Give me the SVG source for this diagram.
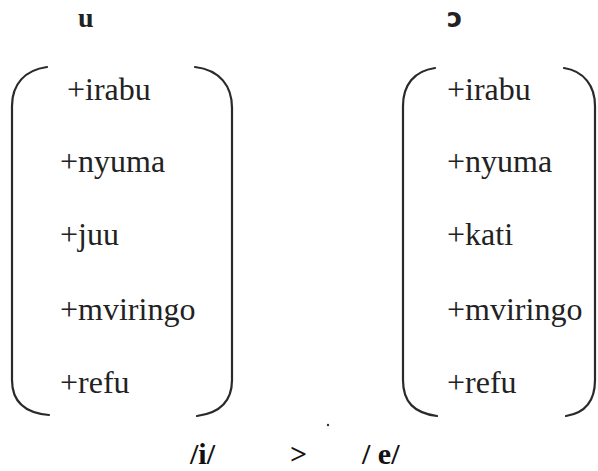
<svg xmlns="http://www.w3.org/2000/svg" width="598" height="471" viewBox="0 0 598 471">
  <style>
    .br { fill: none; stroke: #2a2a2a; stroke-width: 2.2; stroke-linecap: round; }
    .ft { font-family: 'Liberation Serif', 'DejaVu Serif', serif; font-size: 32px; fill: #222; }
    .hd { font-family: 'Liberation Serif', 'DejaVu Serif', serif; font-size: 28px; font-weight: bold; fill: #222; }
    .hs { font-family: 'DejaVu Sans', 'Liberation Sans', sans-serif; font-size: 26px; font-weight: bold; fill: #222; }
    .rl { font-family: 'Liberation Serif', 'DejaVu Serif', serif; font-size: 30px; font-weight: bold; fill: #111; }
  </style>
  <rect width="598" height="471" fill="#fff"/>

  <!-- feature matrix for u -->
  <g id="matrix-u">
    <text class="hd" x="78" y="27">u</text>
    <path class="br" d="M47 67 C25 70 12 84 12 106 L12 380 C12 402 25 413 49 415"/>
    <path class="br" d="M195 67 C220 70 232 86 232 108 L232 380 C232 402 220 413 197 416"/>
    <text class="ft" x="67" y="100">+irabu</text>
    <text class="ft" x="60" y="172">+nyuma</text>
    <text class="ft" x="60" y="245">+juu</text>
    <text class="ft" x="60" y="320">+mviringo</text>
    <text class="ft" x="60" y="393">+refu</text>
  </g>

  <!-- feature matrix for ɔ -->
  <g id="matrix-o">
    <text class="hs" x="447" y="27">ɔ</text>
    <path class="br" d="M435 68 C414 71 403 85 403 106 L403 380 C403 402 414 413 437 416"/>
    <path class="br" d="M564 68 C584 71 595 86 595 106 L595 380 C595 402 585 413 566 416"/>
    <text class="ft" x="447" y="100">+irabu</text>
    <text class="ft" x="447" y="172">+nyuma</text>
    <text class="ft" x="447" y="245">+kati</text>
    <text class="ft" x="447" y="320">+mviringo</text>
    <text class="ft" x="447" y="393">+refu</text>
  </g>

  <!-- rule: /i/ > /e/ -->
  <g id="rule">
    <text class="rl" x="190" y="464">/i/</text>
    <text class="rl" x="290" y="464">&gt;</text>
    <text class="rl" x="362" y="464">/ e/</text>
    <circle cx="328" cy="425" r="1.2" fill="#333"/>
  </g>
</svg>
